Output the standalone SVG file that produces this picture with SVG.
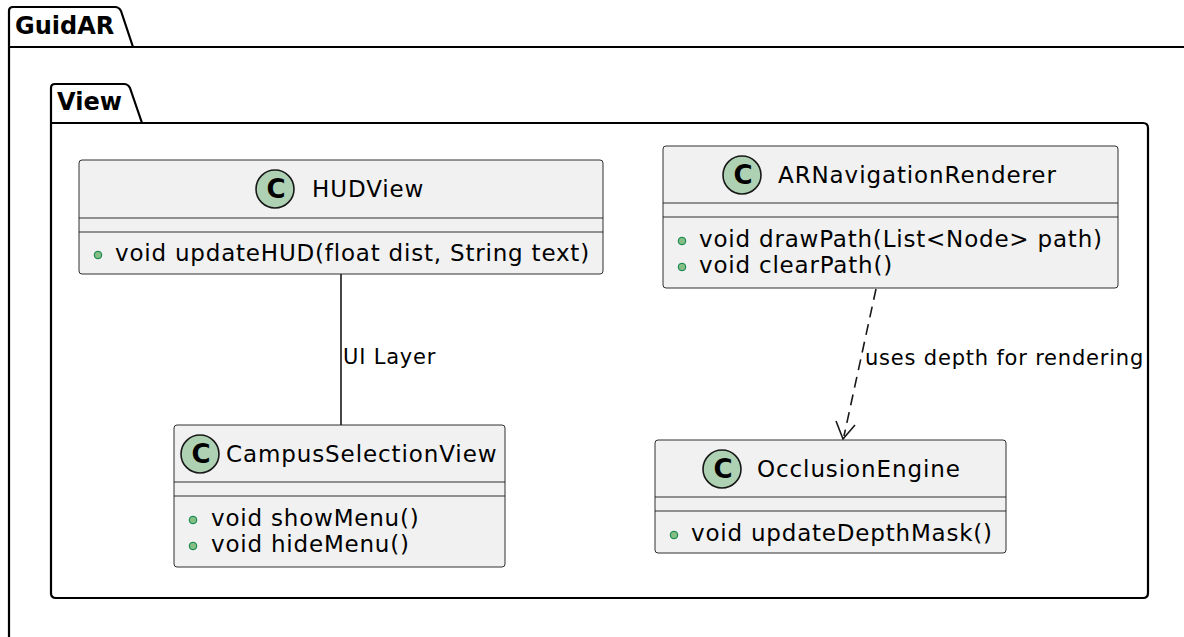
<svg xmlns="http://www.w3.org/2000/svg" width="1184" height="637" viewBox="0 0 1184 637">
  <style>
    .pkg { fill: none; stroke: #000000; stroke-width: 2.2; stroke-linejoin: round; }
    .pkgtitle { font-family: "DejaVu Sans", sans-serif; font-size: 24px; font-weight: bold; fill: #000000; }
    .box { fill: #F1F1F1; stroke: #181818; stroke-width: 0.9; }
    .sep { stroke: #181818; stroke-width: 0.9; }
    .cname { font-family: "DejaVu Sans", sans-serif; font-size: 23px; letter-spacing: 0.9px; fill: #000000; }
    .member { font-family: "DejaVu Sans", sans-serif; font-size: 23px; letter-spacing: 0.8px; fill: #000000; }
    .spot { fill: #ADD1B2; stroke: #181818; stroke-width: 1.6; }
    .spotc { font-family: "DejaVu Sans", sans-serif; font-size: 26px; font-weight: bold; fill: #000000; }
    .vis { fill: #84BE84; stroke: #038048; stroke-width: 1; }
    .edge { fill: none; stroke: #181818; stroke-width: 1.6; }
    .elabel { font-family: "DejaVu Sans", sans-serif; font-size: 21px; letter-spacing: 0.8px; fill: #000000; }
  </style>

  <rect width="1184" height="637" fill="#FFFFFF"/>

  <!-- package GuidAR -->
  <g id="pkg-guidar">
    <path class="pkg" d="M9,640 L9,11 Q9,7 13,7 L115,7 Q119,7 121,11 L133,47 L1190,47 M9,47 L133,47"/>
    <text class="pkgtitle" x="15" y="34">GuidAR</text>
  </g>

  <!-- package View -->
  <g id="pkg-view">
    <path class="pkg" d="M51,594 L51,88 Q51,84 55,84 L124,84 Q128,84 130,88 L142,123 L1143,123 Q1148,123 1148,128 L1148,593 Q1148,598 1143,598 L56,598 Q51,598 51,593 Z M51,123 L142,123"/>
    <text class="pkgtitle" x="57" y="110">View</text>
  </g>

  <!-- connectors -->
  <g id="connectors">
    <line class="edge" x1="341" y1="274" x2="341" y2="425"/>
    <text class="elabel" x="343" y="364">UI Layer</text>
    <path class="edge" d="M876,289 L844,436" stroke-dasharray="11,7"/>
    <path class="edge" d="M836,421 L843,439 L855,425"/>
    <text class="elabel" x="865" y="365">uses depth for rendering</text>
  </g>

  <!-- class HUDView -->
  <g id="HUDView">
    <rect class="box" x="79" y="160" width="524" height="114" rx="3"/>
    <circle class="spot" cx="275" cy="189" r="19"/>
    <text class="spotc" x="276" y="198" text-anchor="middle">C</text>
    <text class="cname" x="312" y="197">HUDView</text>
    <line class="sep" x1="79" y1="218" x2="603" y2="218"/>
    <line class="sep" x1="79" y1="232" x2="603" y2="232"/>
    <circle class="vis" cx="98" cy="255" r="3.8"/>
    <text class="member" x="115" y="261">void updateHUD(float dist, String text)</text>
  </g>

  <!-- class ARNavigationRenderer -->
  <g id="ARNavigationRenderer">
    <rect class="box" x="663" y="146" width="455" height="142" rx="3"/>
    <circle class="spot" cx="742" cy="175" r="19"/>
    <text class="spotc" x="743" y="184" text-anchor="middle">C</text>
    <text class="cname" x="778" y="183">ARNavigationRenderer</text>
    <line class="sep" x1="663" y1="203" x2="1118" y2="203"/>
    <line class="sep" x1="663" y1="217" x2="1118" y2="217"/>
    <circle class="vis" cx="682" cy="241" r="3.8"/>
    <text class="member" x="699" y="247">void drawPath(List&lt;Node&gt; path)</text>
    <circle class="vis" cx="682" cy="267" r="3.8"/>
    <text class="member" x="699" y="273">void clearPath()</text>
  </g>

  <!-- class CampusSelectionView -->
  <g id="CampusSelectionView">
    <rect class="box" x="174" y="425" width="331" height="142" rx="3"/>
    <circle class="spot" cx="200" cy="454" r="19"/>
    <text class="spotc" x="201" y="463" text-anchor="middle">C</text>
    <text class="cname" x="226" y="462">CampusSelectionView</text>
    <line class="sep" x1="174" y1="482" x2="505" y2="482"/>
    <line class="sep" x1="174" y1="496" x2="505" y2="496"/>
    <circle class="vis" cx="193" cy="520" r="3.8"/>
    <text class="member" x="211" y="526">void showMenu()</text>
    <circle class="vis" cx="193" cy="546" r="3.8"/>
    <text class="member" x="211" y="552">void hideMenu()</text>
  </g>

  <!-- class OcclusionEngine -->
  <g id="OcclusionEngine">
    <rect class="box" x="655" y="440" width="351" height="113" rx="3"/>
    <circle class="spot" cx="722" cy="469" r="19"/>
    <text class="spotc" x="723" y="478" text-anchor="middle">C</text>
    <text class="cname" x="757" y="477">OcclusionEngine</text>
    <line class="sep" x1="655" y1="497" x2="1006" y2="497"/>
    <line class="sep" x1="655" y1="511" x2="1006" y2="511"/>
    <circle class="vis" cx="674" cy="535" r="3.8"/>
    <text class="member" x="691" y="541">void updateDepthMask()</text>
  </g>
</svg>
